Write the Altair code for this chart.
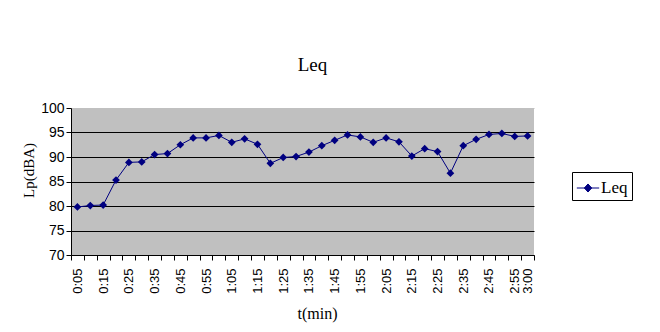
import altair as alt
import pandas as pd

times = ["0:05", "0:10", "0:15", "0:20", "0:25", "0:30", "0:35", "0:40", "0:45", "0:50",
         "0:55", "1:00", "1:05", "1:10", "1:15", "1:20", "1:25", "1:30", "1:35", "1:40",
         "1:45", "1:50", "1:55", "2:00", "2:05", "2:10", "2:15", "2:20", "2:25", "2:30",
         "2:35", "2:40", "2:45", "2:50", "2:55", "3:00"]
leq = [79.8, 80.1, 80.2, 85.3, 88.9, 89.0, 90.5, 90.7, 92.5, 93.9,
       93.9, 94.4, 93.0, 93.7, 92.6, 88.7, 89.9, 90.1, 91.0, 92.3,
       93.4, 94.5, 94.1, 93.0, 93.9, 93.1, 90.2, 91.7, 91.1, 86.7,
       92.3, 93.6, 94.6, 94.8, 94.2, 94.3]
shown_labels = ["0:05", "0:15", "0:25", "0:35", "0:45", "0:55", "1:05", "1:15", "1:25",
                "1:35", "1:45", "1:55", "2:05", "2:15", "2:25", "2:35", "2:45", "2:55", "3:00"]
y_ticks = [70, 75, 80, 85, 90, 95, 100]
series_name = "Leq"

df = pd.DataFrame({"t": times, "Lp": leq, "series": [series_name] * len(times)})

NAVY = "#000080"
SERIF = "Liberation Serif"
SANS = "Liberation Sans"

label_list = "[" + ",".join("'" + s + "'" for s in shown_labels) + "]"

x_enc = alt.X(
    "t:O", sort=times, bandPosition=0.5,
    scale=alt.Scale(type="band", paddingInner=0, paddingOuter=0),
    axis=alt.Axis(
        title="t(min)", titleFont=SERIF, titleFontSize=16, titleFontWeight="normal",
        titleColor="black", titleX=246, titleY=63, titleAlign="center",
        titleBaseline="alphabetic",
        labelAngle=270, labelFont=SANS, labelFontSize=13, labelColor="black",
        labelPadding=8, labelExpr="indexof(" + label_list + ", datum.value) >= 0 ? datum.value : ''",
        labelOverlap=False, tickBand="extent", tickSize=5, tickColor="black",
        domainColor="black", grid=False,
    ),
)
y_enc = alt.Y(
    "Lp:Q",
    scale=alt.Scale(domain=[70, 100], nice=False, zero=False),
    axis=alt.Axis(
        title="Lp(dBA)", titleFont=SERIF, titleFontSize=15, titleFontWeight="normal",
        titleColor="black", titleAngle=270, titleX=-38, titleY=62,
        titleAlign="center", titleBaseline="alphabetic",
        values=y_ticks, labelFont=SANS, labelFontSize=14, labelColor="black",
        labelPadding=2, tickSize=5, tickColor="black", domainColor="black",
        grid=True,
        gridColor=alt.condition("datum.value == 100", alt.value("#C0C0C0"), alt.value("black")),
        gridWidth=1,
    ),
)

line = alt.Chart(df).mark_line(strokeWidth=1).encode(
    x=x_enc, y=y_enc,
    color=alt.Color(
        "series:N",
        scale=alt.Scale(domain=[series_name], range=[NAVY]),
        legend=alt.Legend(
            title=None, orient="none", legendX=501, legendY=64,
            strokeColor="black", padding=4, fillColor="white",
            labelFont=SERIF, labelFontSize=17, labelColor="black", labelOffset=1,
            symbolType="M-1,0H1M-0.33,0L0,-0.36L0.33,0L0,0.36Z",
            symbolSize=500, symbolStrokeWidth=1, symbolFillColor=NAVY,
            symbolStrokeColor=NAVY,
        ),
    ),
)
points = alt.Chart(df).mark_point(
    shape="diamond", filled=True, size=60, color=NAVY, opacity=1
).encode(x=x_enc, y=y_enc)

chart = alt.layer(line, points).properties(
    width=463, height=147,
    title=alt.Title("Leq", font=SERIF, fontSize=19, fontWeight="normal", color="black",
                    anchor="middle", frame="group", offset=11, baseline="alphabetic", dx=10),
    autosize=alt.AutoSizeParams(type="none"),
    padding={"left": 63, "top": 100, "right": 118, "bottom": 69},
).configure(
    background="white",
    view=alt.ViewConfig(fill="#C0C0C0", strokeWidth=0),
)

chart.save("out.html", embed_options={"renderer": "svg", "actions": False})
